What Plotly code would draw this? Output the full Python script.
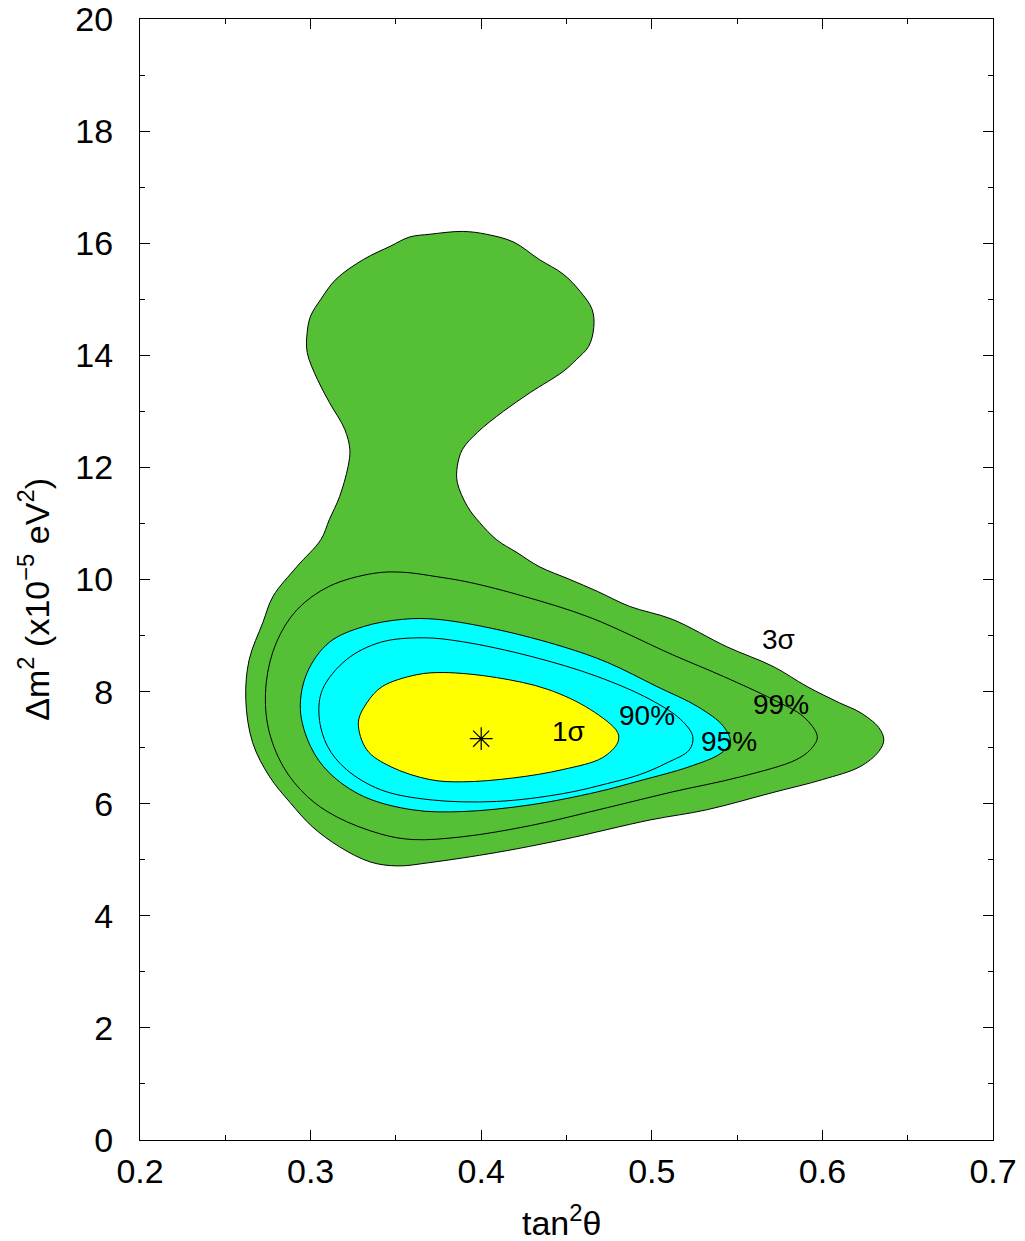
import plotly.graph_objects as go

# ---- data (tan^2(theta), dm^2 in 1e-5 eV^2) ----
sig3_x = [0.370, 0.389, 0.403, 0.419, 0.434, 0.448, 0.458, 0.465, 0.466, 0.463, 0.456, 0.448,
          0.429, 0.413, 0.398, 0.389, 0.386, 0.386, 0.392, 0.399, 0.409, 0.421, 0.434, 0.452,
          0.468, 0.487, 0.512, 0.544, 0.571, 0.591, 0.610, 0.622, 0.633, 0.636, 0.633, 0.622,
          0.600, 0.571, 0.532, 0.499, 0.448, 0.409, 0.370, 0.351, 0.335, 0.317, 0.301, 0.288,
          0.276, 0.266, 0.262, 0.264, 0.272, 0.278, 0.292, 0.306, 0.311, 0.317, 0.322, 0.323,
          0.320, 0.311, 0.304, 0.298, 0.298, 0.300, 0.306, 0.315, 0.331, 0.347, 0.358, 0.370]
sig3_y = [16.16, 16.21, 16.16, 16.02, 15.71, 15.45, 15.14, 14.82, 14.50, 14.16, 13.93, 13.71,
          13.34, 13.00, 12.63, 12.32, 12.02, 11.73, 11.30, 11.02, 10.71, 10.48, 10.23, 10.00,
          9.79, 9.52, 9.29, 8.80, 8.45, 8.09, 7.80, 7.63, 7.36, 7.14, 6.93, 6.66,
          6.43, 6.20, 5.89, 5.71, 5.36, 5.13, 4.95, 4.89, 4.96, 5.23, 5.59, 6.02,
          6.48, 7.09, 7.86, 8.57, 9.23, 9.70, 10.23, 10.71, 11.07, 11.48, 12.02, 12.32,
          12.68, 13.16, 13.57, 14.05, 14.41, 14.70, 15.00, 15.36, 15.71, 15.95, 16.11, 16.16]

cl99_x = [0.311, 0.337, 0.354, 0.374, 0.393, 0.425, 0.464, 0.512, 0.542, 0.571, 0.589, 0.597,
          0.594, 0.585, 0.552, 0.512, 0.474, 0.429, 0.389, 0.360, 0.341, 0.315, 0.298, 0.284,
          0.275, 0.274, 0.280, 0.292, 0.311]
cl99_y = [9.88, 10.11, 10.13, 10.05, 9.95, 9.70, 9.32, 8.66, 8.27, 7.86, 7.55, 7.20,
          7.00, 6.79, 6.48, 6.21, 5.93, 5.61, 5.41, 5.36, 5.46, 5.77, 6.13, 6.66,
          7.38, 8.16, 8.88, 9.46, 9.88]

cl95_x = [0.331, 0.354, 0.374, 0.409, 0.448, 0.474, 0.503, 0.527, 0.542, 0.546, 0.540, 0.522,
          0.493, 0.468, 0.429, 0.389, 0.360, 0.331, 0.311, 0.300, 0.294, 0.298, 0.311, 0.331]
cl95_y = [9.16, 9.29, 9.29, 9.11, 8.80, 8.52, 8.09, 7.73, 7.38, 7.09, 6.89, 6.66,
          6.41, 6.21, 5.98, 5.86, 5.89, 6.13, 6.55, 7.02, 7.68, 8.34, 8.88, 9.16]

cl90_x = [0.341, 0.366, 0.389, 0.429, 0.468, 0.499, 0.517, 0.524, 0.522, 0.509, 0.493, 0.474,
          0.448, 0.409, 0.370, 0.341, 0.321, 0.310, 0.305, 0.307, 0.321, 0.341]
cl90_y = [8.88, 8.96, 8.89, 8.63, 8.27, 7.86, 7.50, 7.20, 6.96, 6.73, 6.52, 6.36,
          6.18, 6.04, 6.07, 6.25, 6.61, 7.02, 7.55, 8.04, 8.57, 8.88]

sig1_x = [0.328, 0.333, 0.342, 0.362, 0.378, 0.409, 0.439, 0.464, 0.480, 0.480, 0.471, 0.448,
          0.419, 0.389, 0.370, 0.347, 0.333, 0.328]
sig1_y = [7.45, 7.80, 8.09, 8.30, 8.34, 8.25, 8.04, 7.68, 7.27, 7.09, 6.82, 6.61,
          6.46, 6.39, 6.43, 6.66, 6.96, 7.45]

best_fit_x = [0.400]
best_fit_y = [7.16]

label_texts = ["3σ", "99%", "95%", "90%", "1σ"]
label_x = [0.574, 0.576, 0.545, 0.497, 0.451]
label_y = [8.93, 7.77, 7.11, 7.57, 7.29]

x_tick_vals = [0.2, 0.3, 0.4, 0.5, 0.6, 0.7]
x_tick_labels = ["0.2", "0.3", "0.4", "0.5", "0.6", "0.7"]
y_tick_vals = [0, 2, 4, 6, 8, 10, 12, 14, 16, 18, 20]
y_tick_labels = ["0", "2", "4", "6", "8", "10", "12", "14", "16", "18", "20"]

GREEN = "#55C036"
CYAN = "#00FFFF"
YELLOW = "#FFFF00"
FONT = "Liberation Sans, Arial, Helvetica, sans-serif"

fig = go.Figure()

def region(xs, ys, fill):
    fig.add_trace(go.Scatter(
        x=xs, y=ys, mode="lines", fill="toself" if fill else None,
        fillcolor=fill, line=dict(color="black", width=1, shape="spline", smoothing=1.0),
        hoverinfo="skip", showlegend=False))

region(sig3_x, sig3_y, GREEN)
region(cl99_x, cl99_y, None)
region(cl95_x, cl95_y, CYAN)
region(cl90_x, cl90_y, None)
region(sig1_x, sig1_y, YELLOW)

fig.add_trace(go.Scatter(
    x=best_fit_x, y=best_fit_y, mode="markers",
    marker=dict(symbol="asterisk-open", size=19, color="black",
                line=dict(color="black", width=1.2)),
    showlegend=False, hoverinfo="skip"))

for t, lx, ly in zip(label_texts, label_x, label_y):
    fig.add_annotation(x=lx, y=ly, text=t, showarrow=False,
                       font=dict(family=FONT, size=28, color="black"),
                       xanchor="center", yanchor="middle")

# axis titles
fig.add_annotation(xref="paper", yref="paper", x=0, y=0.482, xshift=-106,
                   text="Δm<sup>2</sup> (x10<sup>−5</sup> eV<sup>2</sup>)", textangle=-90,
                   showarrow=False, xanchor="center", yanchor="middle",
                   font=dict(family=FONT, size=34, color="black"))
fig.add_annotation(xref="paper", yref="paper", x=0.4936, y=0, yshift=-80,
                   text="tan<sup>2</sup>θ", showarrow=False,
                   xanchor="center", yanchor="middle",
                   font=dict(family=FONT, size=34, color="black"))

axis_common = dict(
    showline=True, linecolor="black", linewidth=1, mirror="ticks",
    ticks="inside", ticklen=10, tickwidth=1, tickcolor="black",
    showgrid=False, zeroline=False, ticklabeloverflow="allow", automargin=False,
    tickfont=dict(family=FONT, size=34, color="black"),
)

fig.update_xaxes(range=[0.2, 0.7], tickvals=x_tick_vals, ticktext=x_tick_labels,
                 minor=dict(ticks="inside", ticklen=5, dtick=0.05, tickcolor="black", showgrid=False),
                 ticklabelstandoff=1, **axis_common)
fig.update_yaxes(range=[0, 20], tickvals=y_tick_vals, ticktext=y_tick_labels,
                 minor=dict(ticks="inside", ticklen=5, dtick=1, tickcolor="black", showgrid=False),
                 ticklabelstandoff=19, **axis_common)

# the page body has an 8px margin, so the figure is offset by 8px
fig.update_layout(
    width=1017, height=1233,
    margin=dict(l=132, r=32, t=11, b=101, autoexpand=False),
    paper_bgcolor="white", plot_bgcolor="white",
    font=dict(family=FONT, color="black"),
)

fig.write_html("out.html")
